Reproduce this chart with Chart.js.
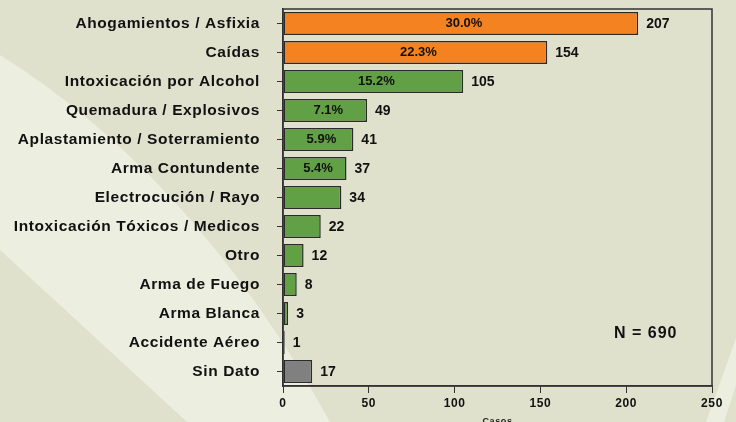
<!DOCTYPE html>
<html>
<head>
<meta charset="utf-8">
<script src="https://cdn.jsdelivr.net/npm/chart.js@4"></script>
<style>
  html, body { margin: 0; padding: 0; background: #dfe1cd; }
  #wrap { width: 736px; height: 422px; }
</style>
</head>
<body>
<div id="wrap"><canvas id="causas"></canvas></div>
<script>
const categorias = [
  "Ahogamientos / Asfixia",
  "Caídas",
  "Intoxicación por Alcohol",
  "Quemadura / Explosivos",
  "Aplastamiento / Soterramiento",
  "Arma Contundente",
  "Electrocución / Rayo",
  "Intoxicación Tóxicos / Medicos",
  "Otro",
  "Arma de Fuego",
  "Arma Blanca",
  "Accidente Aéreo",
  "Sin Dato",
];
const casos = [207, 154, 105, 49, 41, 37, 34, 22, 12, 8, 3, 1, 17];
const porcentajes = ["30.0%", "22.3%", "15.2%", "7.1%", "5.9%", "5.4%", "", "", "", "", "", "", ""];
const colores = [
  "#f58220", "#f58220",
  "#62a045", "#62a045", "#62a045", "#62a045", "#62a045",
  "#62a045", "#62a045", "#62a045", "#62a045", "#62a045",
  "#808080",
];
const ticks_x = [0, 50, 100, 150, 200, 250];
const total_n = "N = 690";

const FONT = "'Liberation Sans', Arial, sans-serif";

// fondo con la banda clara
const fondo = {
  id: "fondo",
  beforeDraw(chart) {
    const ctx = chart.ctx;
    ctx.save();
    ctx.fillStyle = "#dfe1cd";
    ctx.fillRect(0, 0, chart.width, chart.height);
    ctx.fillStyle = "#eceedf";
    ctx.beginPath();
    ctx.moveTo(0, 55);
    ctx.quadraticCurveTo(195, 177, 330, 422);
    ctx.lineTo(187, 422);
    ctx.lineTo(0, 250);
    ctx.closePath();
    ctx.fill();
    ctx.beginPath();
    ctx.moveTo(736, 338);
    ctx.lineTo(706, 422);
    ctx.lineTo(724, 422);
    ctx.lineTo(736, 385);
    ctx.closePath();
    ctx.fill();
    ctx.restore();
    // letras un poco mas abiertas en los ejes
    ctx.letterSpacing = "0.6px";
  },
  beforeDatasetsDraw(chart) {
    chart.ctx.letterSpacing = "0px";
  },
};

// marco, etiquetas de valor y porcentajes
const etiquetas = {
  id: "etiquetas",
  afterDraw(chart) {
    const ctx = chart.ctx;
    const a = chart.chartArea;
    ctx.save();
    ctx.strokeStyle = "#333333";
    ctx.lineWidth = 1.5;
    ctx.strokeRect(a.left, a.top, a.right - a.left, a.bottom - a.top);

    const meta = chart.getDatasetMeta(0);
    ctx.fillStyle = "#111111";
    ctx.textBaseline = "middle";
    meta.data.forEach((bar, i) => {
      ctx.font = "bold 14px " + FONT;
      ctx.textAlign = "left";
      ctx.fillText(String(casos[i]), bar.x + 8, bar.y + 1);
      if (porcentajes[i]) {
        ctx.font = "bold 13px " + FONT;
        ctx.textAlign = "center";
        ctx.fillText(porcentajes[i], (bar.base + bar.x) / 2 + 3, bar.y);
      }
    });

    ctx.font = "bold 16px " + FONT;
    ctx.letterSpacing = "1px";
    ctx.textAlign = "left";
    ctx.fillText(total_n, 614, 334);
    ctx.restore();
  },
};

new Chart(document.getElementById("causas"), {
  type: "bar",
  data: {
    labels: categorias,
    datasets: [
      {
        data: casos,
        backgroundColor: colores,
        borderColor: "#2b2b2b",
        borderWidth: 1.5,
        borderSkipped: false,
        barPercentage: 0.8,
        categoryPercentage: 1,
      },
    ],
  },
  options: {
    indexAxis: "y",
    responsive: true,
    maintainAspectRatio: false,
    animation: false,
    layout: { padding: { top: 9, right: 24, left: 0, bottom: 0 } },
    plugins: {
      legend: { display: false },
      tooltip: { enabled: false },
    },
    scales: {
      x: {
        min: 0,
        max: 250,
        afterFit: (scale) => {
          scale.height = 36;
          scale.paddingLeft = 0;
          scale.paddingRight = 0;
        },
        afterBuildTicks: (scale) => { scale.ticks = ticks_x.map((v) => ({ value: v })); },
        grid: {
          drawOnChartArea: false,
          tickLength: 7,
          color: "#333333",
          lineWidth: 1,
        },
        border: { display: true, color: "#333333", width: 1.5 },
        ticks: {
          color: "#111111",
          padding: 3,
          font: { family: FONT, size: 12, weight: "bold" },
        },
        title: {
          display: true,
          text: "Casos",
          color: "#222222",
          padding: { top: 0, bottom: -4 },
          font: { family: FONT, size: 9, weight: "bold", lineHeight: 1 },
        },
      },
      y: {
        afterFit: (scale) => {
          scale.width = 283;
          scale.paddingTop = 0;
          scale.paddingBottom = 0;
        },
        grid: {
          offset: false,
          drawOnChartArea: false,
          tickLength: 6,
          color: "#333333",
          lineWidth: 1,
        },
        border: { display: true, color: "#333333", width: 1.5 },
        ticks: {
          color: "#111111",
          padding: 17,
          autoSkip: false,
          font: { family: FONT, size: 15.5, weight: "bold" },
        },
      },
    },
  },
  plugins: [fondo, etiquetas],
});
</script>
</body>
</html>
